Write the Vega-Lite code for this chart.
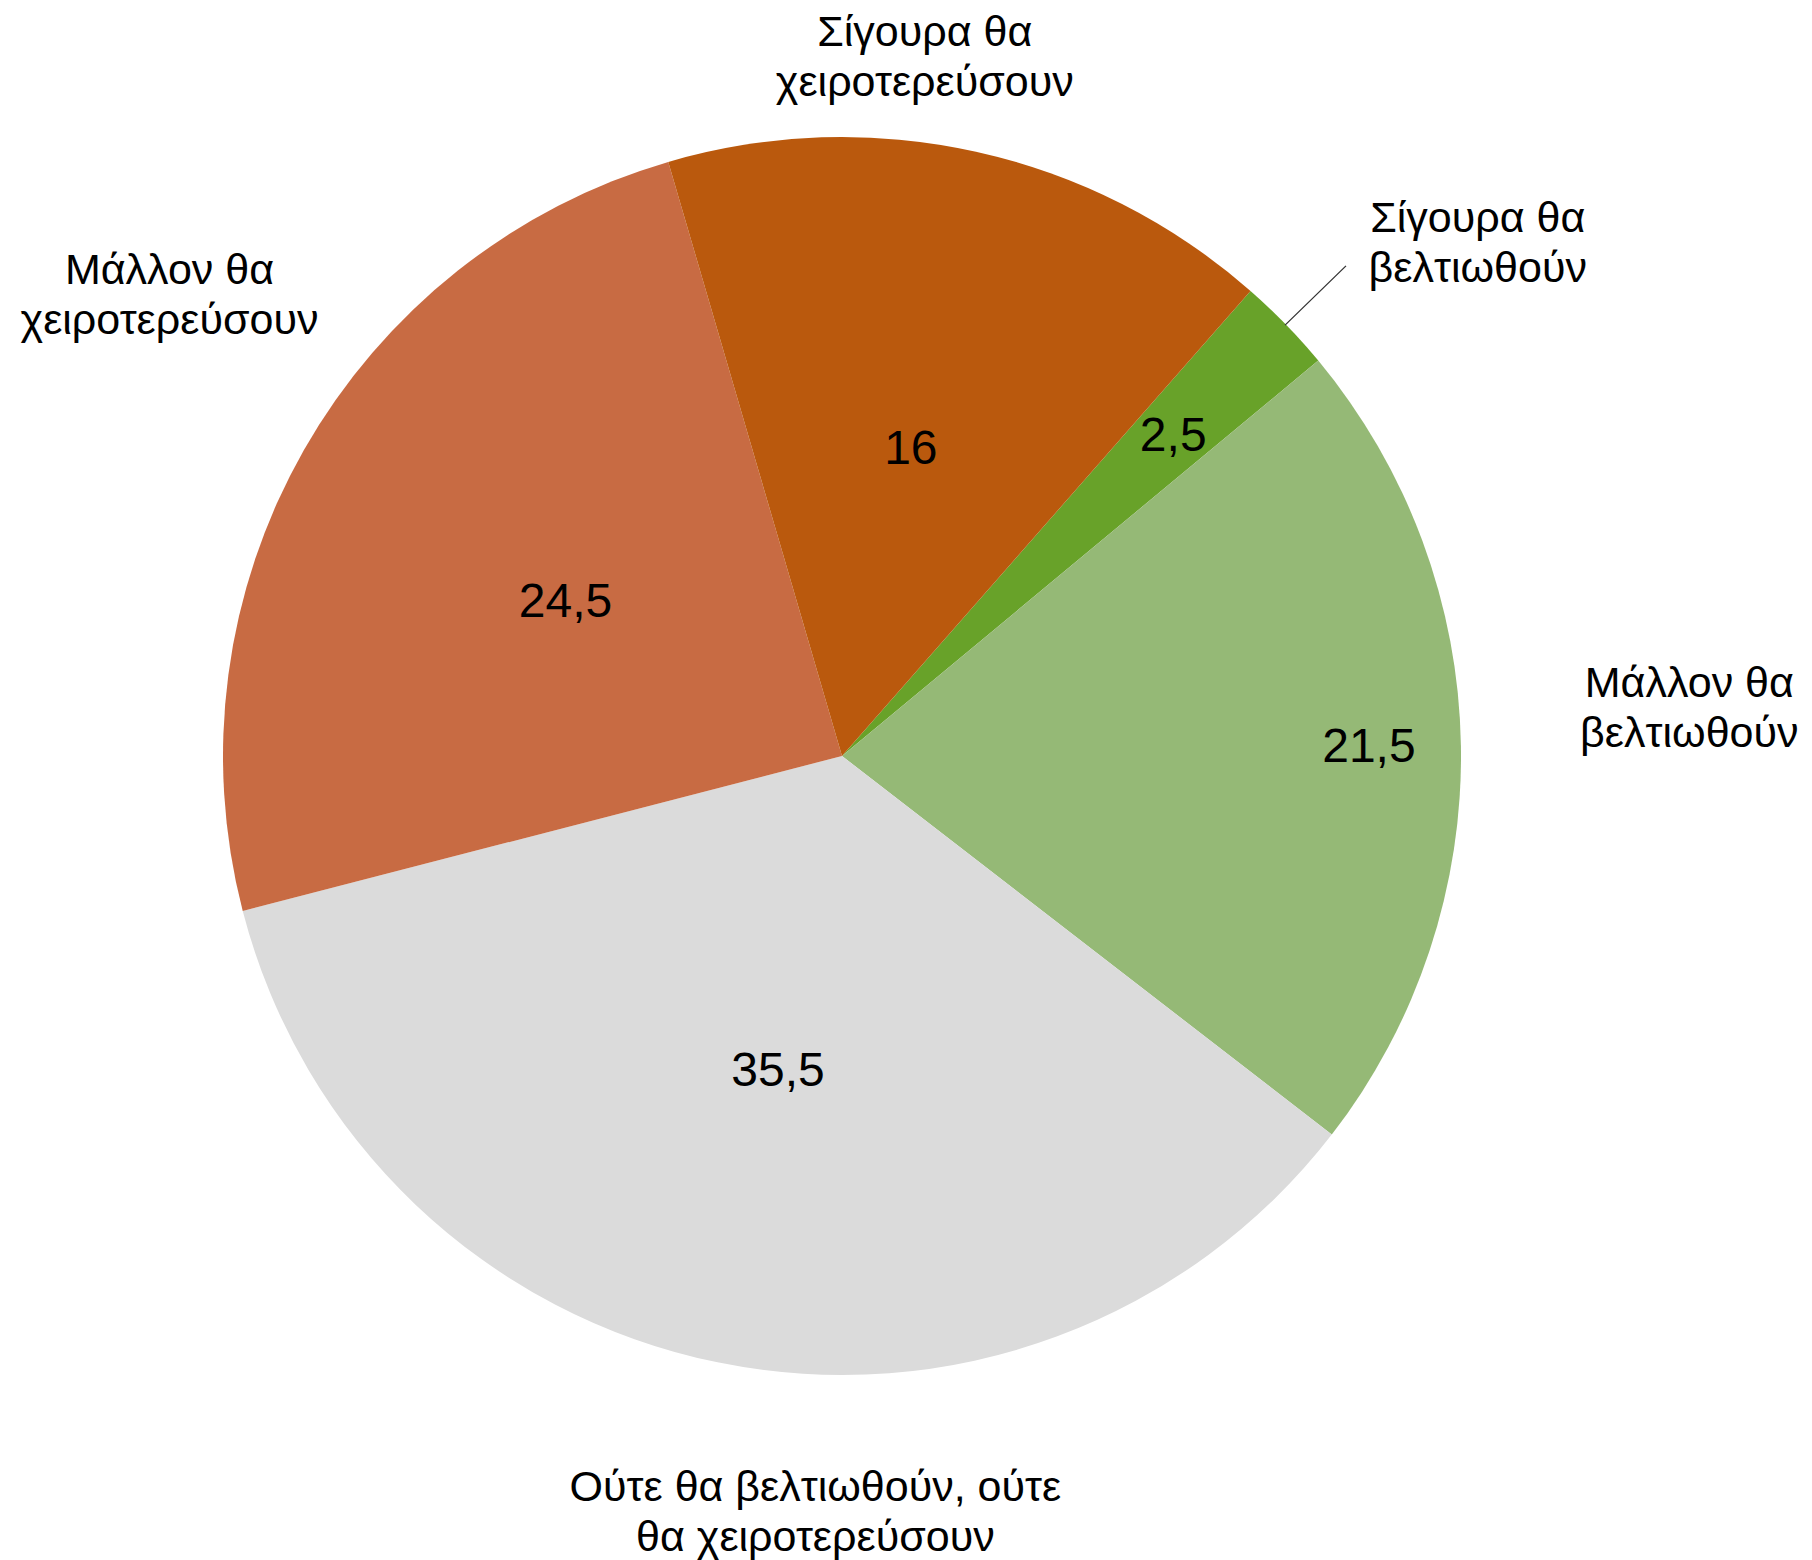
{
  "$schema": "https://vega.github.io/schema/vega-lite/v6.json",
  "width": 1684,
  "height": 1512,
  "autosize": "none",
  "padding": {"left": 0, "top": 0, "right": 128, "bottom": 48},
  "background": "white",
  "config": {"view": {"stroke": null}, "text": {"font": "Liberation Sans", "color": "#000000"}},
  "data": {"values": [
    {"ord": 1, "id": "sb", "label": "Σίγουρα θα\nβελτιωθούν", "value": 2.5, "txt": "2,5"},
    {"ord": 2, "id": "mb", "label": "Μάλλον θα\nβελτιωθούν", "value": 21.5, "txt": "21,5"},
    {"ord": 3, "id": "n", "label": "Ούτε θα βελτιωθούν, ούτε\nθα χειροτερεύσουν", "value": 35.5, "txt": "35,5"},
    {"ord": 4, "id": "mx", "label": "Μάλλον θα\nχειροτερεύσουν", "value": 24.5, "txt": "24,5"},
    {"ord": 5, "id": "sx", "label": "Σίγουρα θα\nχειροτερεύσουν", "value": 16, "txt": "16"}
  ]},
  "encoding": {
    "theta": {"field": "value", "type": "quantitative", "stack": true, "scale": {"range": [0.7208, 7.004], "zero": true}},
    "order": {"field": "ord", "type": "quantitative", "sort": "ascending"}
  },
  "layer": [
    {
      "mark": {"type": "arc", "radius": 619},
      "encoding": {
        "color": {"field": "id", "type": "nominal", "legend": null,
          "scale": {"domain": ["sb", "mb", "n", "mx", "sx"], "range": ["#68A229", "#95B976", "#DBDBDB", "#C86B43", "#BA590D"]}}
      }
    },
    {
      "mark": {"type": "arc", "radius": 703, "radius2": 618, "theta2": 0, "thetaOffset": -0.07854, "theta2Offset": 0.07854, "fillOpacity": 0, "stroke": "#333333", "strokeWidth": 1.3},
      "encoding": {
        "strokeOpacity": {"condition": {"test": "datum.id === 'sb'", "value": 1}, "value": 0}
      }
    },
    {
      "mark": {"type": "text", "radius": 318, "dy": 4, "fontSize": 48, "baseline": "middle", "align": "center"},
      "encoding": {"text": {"condition": {"test": "indexof(['n','mx','sx'], datum.id) >= 0", "field": "txt"}, "value": ""}}
    },
    {
      "mark": {"type": "text", "radius": 527, "dy": 1, "fontSize": 48, "baseline": "middle", "align": "center"},
      "encoding": {"text": {"condition": {"test": "datum.id === 'mb'", "field": "txt"}, "value": ""}}
    },
    {
      "mark": {"type": "text", "radius": 462, "dy": 3, "fontSize": 48, "baseline": "middle", "align": "center"},
      "encoding": {"text": {"condition": {"test": "datum.id === 'sb'", "field": "txt"}, "value": ""}}
    },
    {
      "mark": {"type": "text", "radius": 708, "thetaOffset": -0.101, "dy": -20, "fontSize": 43, "lineBreak": "\n", "lineHeight": 50, "baseline": "middle", "align": "center"},
      "encoding": {"text": {"condition": {"test": "datum.id === 'sx'", "field": "label"}, "value": ""}}
    },
    {
      "mark": {"type": "text", "radius": 818, "thetaOffset": 0.0908, "dy": -22, "fontSize": 43, "lineBreak": "\n", "lineHeight": 50, "baseline": "middle", "align": "center"},
      "encoding": {"text": {"condition": {"test": "datum.id === 'sb'", "field": "label"}, "value": ""}}
    },
    {
      "mark": {"type": "text", "radius": 849, "thetaOffset": -0.046, "dy": -18, "fontSize": 43, "lineBreak": "\n", "lineHeight": 50, "baseline": "middle", "align": "center"},
      "encoding": {"text": {"condition": {"test": "datum.id === 'mb'", "field": "label"}, "value": ""}}
    },
    {
      "mark": {"type": "text", "radius": 751, "thetaOffset": -0.167, "dy": -19, "fontSize": 43, "lineBreak": "\n", "lineHeight": 50, "baseline": "middle", "align": "center"},
      "encoding": {"text": {"condition": {"test": "datum.id === 'n'", "field": "label"}, "value": ""}}
    },
    {
      "mark": {"type": "text", "radius": 819, "thetaOffset": 0.0908, "dy": -18, "fontSize": 43, "lineBreak": "\n", "lineHeight": 50, "baseline": "middle", "align": "center"},
      "encoding": {"text": {"condition": {"test": "datum.id === 'mx'", "field": "label"}, "value": ""}}
    }
  ]
}
